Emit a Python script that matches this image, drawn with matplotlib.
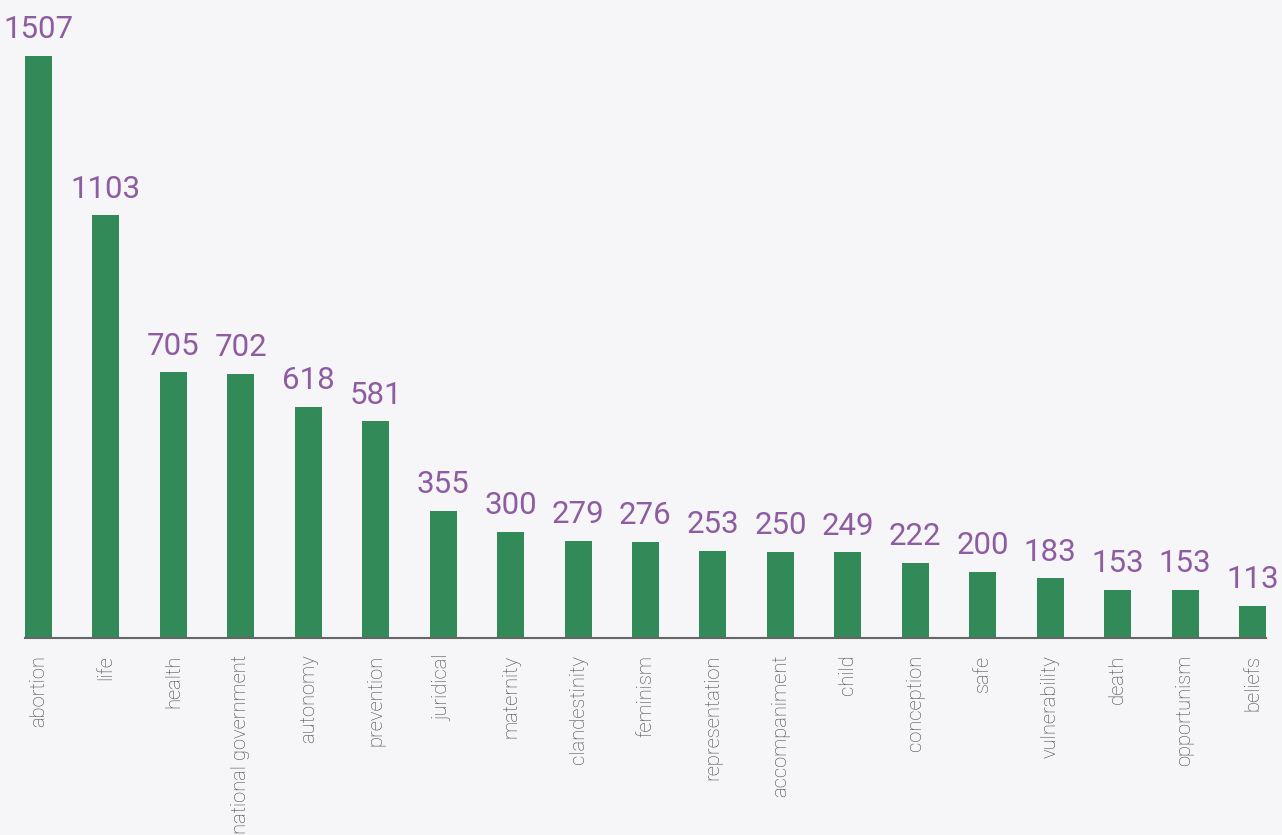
import numpy as np
import matplotlib.pyplot as plt

# Data
terms = ['abortion', 'life', 'health', 'national government', 'autonomy',
         'prevention', 'juridical', 'maternity', 'clandestinity', 'feminism',
         'representation', 'accompaniment', 'child', 'conception', 'safe',
         'vulnerability', 'death', 'opportunism', 'beliefs']
counts = [1507, 1103, 705, 702, 618, 581, 355, 300, 279, 276,
          253, 250, 249, 222, 200, 183, 153, 153, 113]

bar_col = '#318a57'
lab_col = '#8e5ca0'
bg_col = '#f6f6f8'

fig = plt.figure(figsize=(12.82, 8.35), dpi=100, facecolor=bg_col)
ax = fig.add_axes([25/1282, 197/835, 1241/1282, 638/835])
ax.set_facecolor(bg_col)

x = np.arange(len(terms))
bars = ax.bar(x, counts, width=0.4, color=bar_col)

# value labels above bars
for xi, v in zip(x, counts):
    ax.text(xi, v + 30, str(v), ha='center', va='bottom', color=lab_col,
            fontsize=22.5, family=['Roboto', 'DejaVu Sans'])

ax.set_xlim(-0.2, len(terms) - 1 + 0.2)
# baseline sits a little above zero in the original
ax.set_ylim(32, 1649)
ax.set_xticks(x)
ax.set_xticklabels(terms, rotation=90, color='#444444', fontsize=14.5,
                   family=['Roboto', 'DejaVu Sans'], fontweight='light', va='top')
ax.tick_params(axis='x', length=0, pad=12)
ax.set_yticks([])
for s in ['top', 'right', 'left']:
    ax.spines[s].set_visible(False)
ax.spines['bottom'].set_color('#666666')
ax.spines['bottom'].set_linewidth(1.5)

plt.savefig('out.png', dpi=100, facecolor=bg_col)
